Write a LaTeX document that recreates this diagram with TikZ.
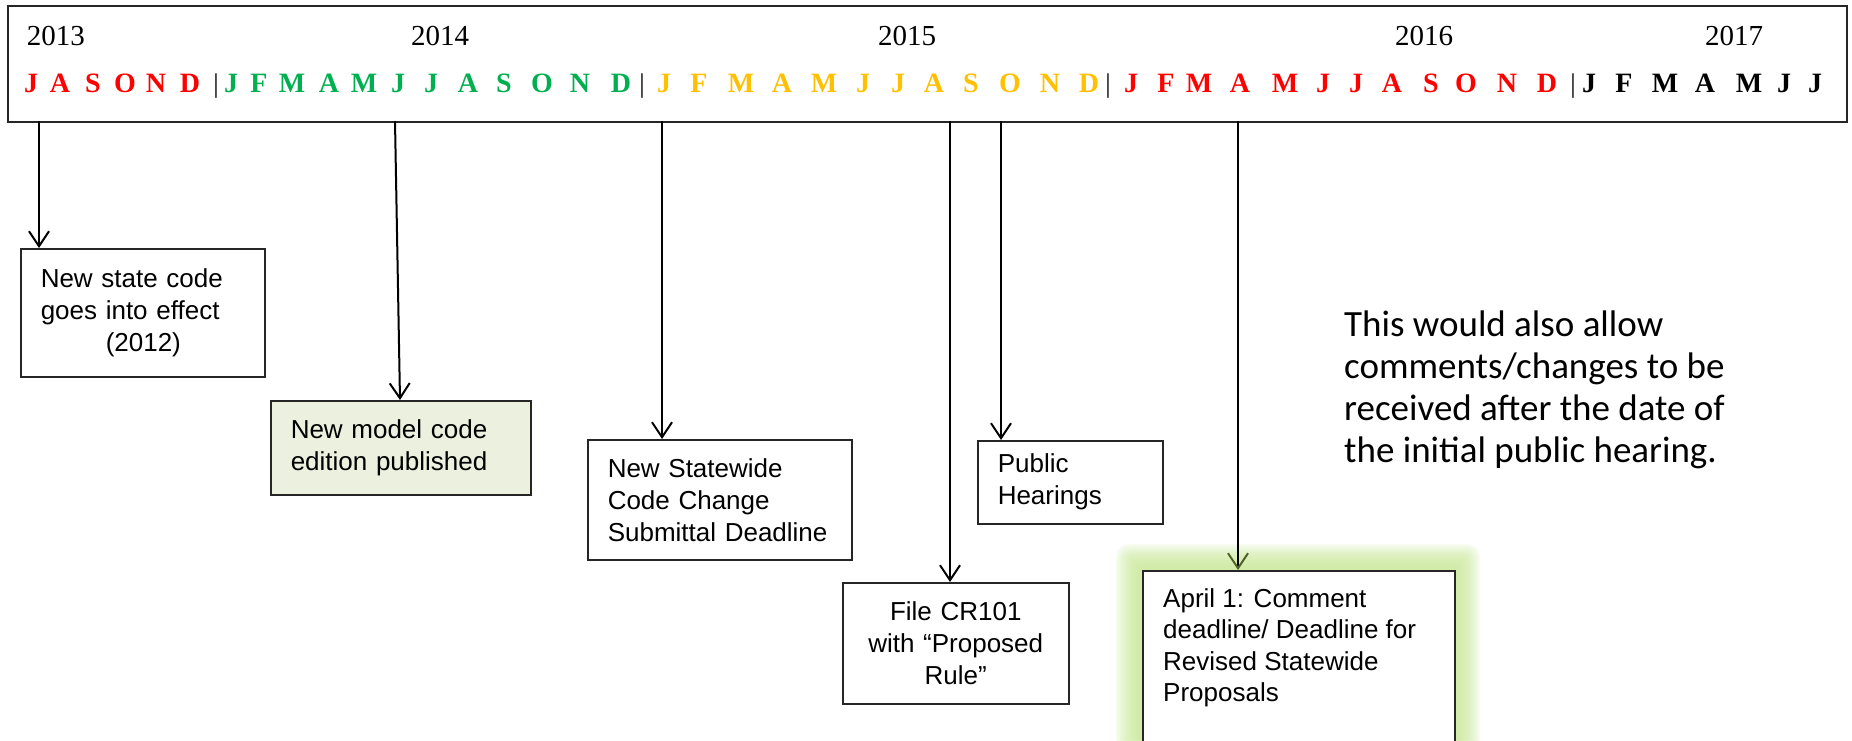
\documentclass[tikz,border=0pt]{standalone}
\usepackage{fontspec}
\setmainfont{Liberation Serif}
\newfontfamily\boxfont{Liberation Sans}
\newfontfamily\notefont{Carlito}
\usetikzlibrary{arrows.meta,calc}
\definecolor{mred}{HTML}{FF0000}
\definecolor{mgreen}{HTML}{00B050}
\definecolor{morange}{HTML}{FFC000}
\definecolor{boxfill}{HTML}{EBF1DE}
\definecolor{glowcol}{HTML}{CDEB9E}
\definecolor{olivetip}{HTML}{4F6228}
\definecolor{edgecol}{HTML}{262626}
\begin{document}
\begin{tikzpicture}[x=1pt,y=-1pt,
  yearlbl/.style={font=\fontsize{29}{34}\selectfont, anchor=base, inner sep=0pt},
  monlbl/.style={font=\fontsize{28}{32}\selectfont\bfseries, anchor=base, inner sep=0pt},
  seplbl/.style={font=\fontsize{27}{32}\selectfont, anchor=base, inner sep=0pt},
  evbox/.style={draw=edgecol, line width=1.5pt, rectangle, anchor=north west, inner xsep=20pt, inner ysep=0pt, font=\boxfont\fontsize{26}{32}\selectfont, align=left},
  evtext/.style={anchor=north west, inner sep=0pt, font=\boxfont\fontsize{26}{31.5}\selectfont, align=left},
  evarrow/.style={draw=black, line width=2pt, -{Straight Barb[length=15pt,width=20pt]}},
  notetext/.style={anchor=north west, inner sep=0pt, font=\notefont\fontsize{37}{42}\selectfont, align=left}
]
\path[clip] (0,0) rectangle (1852,740);
\fill[white] (0,0) rectangle (1852,740);

% timeline bar
\node[draw=edgecol, line width=2pt, minimum width=1839pt, minimum height=116pt, anchor=north west, inner sep=0pt] (bar) at (7,5) {};

% years
\node[yearlbl] (y2013) at (56,45) {2013};
\node[yearlbl] (y2014) at (440,45) {2014};
\node[yearlbl] (y2015) at (907,45) {2015};
\node[yearlbl] (y2016) at (1424,45) {2016};
\node[yearlbl] (y2017) at (1734,45) {2017};

% months
\foreach \x/\l/\c [count=\i] in {
  31/J/mred, 60/A/mred, 93/S/mred, 125/O/mred, 156/N/mred, 190/D/mred,
  231/J/mgreen, 259/F/mgreen, 292/M/mgreen, 329/A/mgreen, 364/M/mgreen, 398/J/mgreen,
  431/J/mgreen, 468/A/mgreen, 504/S/mgreen, 542/O/mgreen, 580/N/mgreen, 621/D/mgreen,
  664/J/morange, 699/F/morange, 741/M/morange, 782/A/morange, 824/M/morange, 863/J/morange,
  898/J/morange, 934/A/morange, 971/S/morange, 1010/O/morange, 1050/N/morange, 1089/D/morange,
  1131/J/mred, 1166/F/mred, 1199/M/mred, 1240/A/mred, 1285/M/mred, 1323/J/mred,
  1356/J/mred, 1392/A/mred, 1431/S/mred, 1466/O/mred, 1507/N/mred, 1547/D/mred,
  1589/J/black, 1624/F/black, 1665/M/black, 1705/A/black, 1749/M/black, 1784/J/black, 1815/J/black}
  \node[monlbl, text=\c] (m\i) at (\x,92.5) {\l};

\foreach \x [count=\i] in {216,642,1108,1573}
  \node[seplbl] (s\i) at (\x,92.5) {|};

% glow behind the last box
\foreach \i in {13,12,...,1}
  \fill[glowcol, fill opacity=0.14, rounded corners=\i pt] ({1142-2*\i},{570-2*\i}) rectangle ({1454+2*\i},790);

% event boxes
\node[evbox, text width=204pt, minimum height=128pt] (b1) at (20,248)
  {New state code\\goes into effect\\\hspace*{65pt}(2012)};
\node[evbox, fill=boxfill, text width=220pt, minimum height=94pt] (b2) at (270,400)
  {New model code\\edition published};
\node[evbox, text width=224pt, minimum height=120pt] (b3) at (587,439)
  {New Statewide\\Code Change\\Submittal Deadline};
\node[evbox, align=center, text width=186pt, minimum height=121pt] (b4) at (842,582)
  {File CR101\\with “Proposed\\Rule”};
\node[evbox, text width=145pt, minimum height=83pt] (b5) at (977,440)
  {Public\\Hearings};
\node[evbox, fill=white, text width=272pt, minimum height=200pt] (b6) at (1142,570) {};
\node[evtext] (t6) at (1163,588)
  {April 1: Comment\\deadline/ Deadline for\\Revised Statewide\\Proposals};

% note
\node[notetext] (note) at (1344,311)
  {This would also allow\\comments/changes to be\\received after the date of\\the initial public hearing.};

% connectors
\coordinate (a1) at (39,121);
\coordinate (a2) at (395,121);
\coordinate (a3) at (662,121);
\coordinate (a4) at (950,121);
\coordinate (a5) at (1001,121);
\coordinate (a6) at (1238,121);
\draw[evarrow] (a1) -- (a1 |- b1.north);
\draw[evarrow] (a2) -- ([xshift=130pt]b2.north west);
\draw[evarrow] (a3) -- (a3 |- b3.north);
\draw[evarrow] (a4) -- (a4 |- b4.north);
\draw[evarrow] (a5) -- (a5 |- b5.north);
\draw[evarrow, -{Straight Barb[length=15pt,width=20pt,color=olivetip]}] (a6) -- (a6 |- b6.north);
\end{tikzpicture}
\end{document}
